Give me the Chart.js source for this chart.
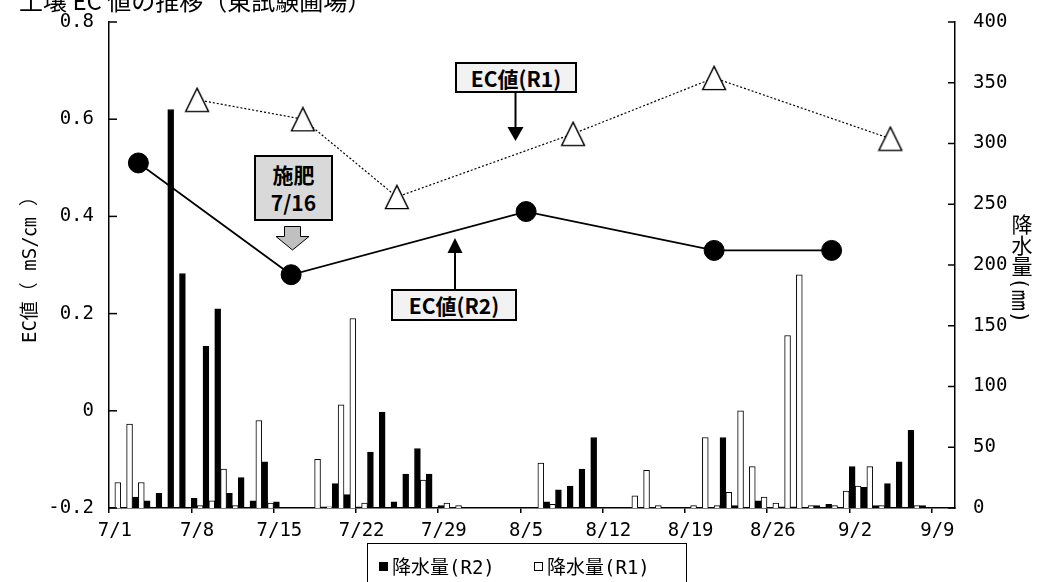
<!DOCTYPE html>
<html><head><meta charset="utf-8">
<script src="https://cdn.jsdelivr.net/npm/chart.js@4.4.1/dist/chart.umd.min.js"></script>
<style>
html,body{margin:0;padding:0;background:#fff;overflow:hidden;}
#wrap{position:relative;width:1047px;height:582px;overflow:hidden;}
#c{position:absolute;left:0;top:0;width:1047px;height:582px;}
#title{position:absolute;left:19px;top:-12px;font-size:24px;line-height:24px;font-family:"Noto Sans CJK JP",sans-serif;color:#000;white-space:nowrap;}
#rtitle{position:absolute;left:1009px;top:214px;writing-mode:vertical-rl;font-size:21px;line-height:22px;font-family:"DejaVu Sans Mono","Noto Sans CJK JP",sans-serif;color:#000;white-space:nowrap;}
#rtitle .sw{text-orientation:sideways;}
.box{position:absolute;box-sizing:border-box;border:2px solid #000;background:#f2f2f2;font-weight:bold;font-size:21px;font-family:"Noto Sans CJK JP",sans-serif;display:flex;align-items:center;justify-content:center;color:#000;white-space:nowrap;}
#b1{left:455px;top:62px;width:122px;height:31px;}
#b2{left:391px;top:289px;width:126px;height:32px;}
#b3{left:254px;top:155px;width:79px;height:66px;background:#d9d9d9;line-height:28px;text-align:center;}
#legend{position:absolute;left:367px;top:543px;width:320px;height:50px;box-sizing:border-box;border:1px solid #000;background:#fff;}
.lk{position:absolute;width:9px;height:9px;top:18px;box-sizing:border-box;border:1px solid #000;}
.lt{position:absolute;top:8px;font-size:19px;line-height:30px;font-family:"DejaVu Sans Mono","Noto Sans CJK JP",sans-serif;color:#000;white-space:nowrap;}
svg{position:absolute;left:0;top:0;}
</style></head><body>
<div id="wrap">
<canvas id="c" width="1047" height="582"></canvas>
<svg width="1047" height="582">
  <line x1="515.5" y1="93" x2="515.5" y2="128" stroke="#000" stroke-width="2"/>
  <polygon points="507.5,127 523.5,127 515.5,141" fill="#000"/>
  <line x1="455" y1="289" x2="455" y2="251" stroke="#000" stroke-width="2"/>
  <polygon points="447.5,253 462.5,253 455,238" fill="#000"/>
  <polygon points="284.5,226.5 300.5,226.5 300.5,236.5 309,236.5 292.5,250 276,236.5 284.5,236.5" fill="#c0c0c0" stroke="#000" stroke-width="1"/>
</svg>
<div id="title">土壌 EC 値の推移（東試験圃場）</div>
<div id="rtitle">降水量<span class="sw">(㎜)</span></div>
<div class="box" id="b1">EC値(R1)</div>
<div class="box" id="b2">EC値(R2)</div>
<div class="box" id="b3"><div>施肥<br>7/16</div></div>
<div id="legend">
  <span class="lk" style="left:11px;background:#000"></span><span class="lt" style="left:24px">降水量(R2)</span>
  <span class="lk" style="left:166px;background:#fff"></span><span class="lt" style="left:179px">降水量(R1)</span>
</div>
</div>
<script>
// Categories: daily dates 7/1 .. 9/10
const days = [
 '7/1','7/2','7/3','7/4','7/5','7/6','7/7','7/8','7/9','7/10',
 '7/11','7/12','7/13','7/14','7/15','7/16','7/17','7/18','7/19','7/20',
 '7/21','7/22','7/23','7/24','7/25','7/26','7/27','7/28','7/29','7/30',
 '7/31','8/1','8/2','8/3','8/4','8/5','8/6','8/7','8/8','8/9',
 '8/10','8/11','8/12','8/13','8/14','8/15','8/16','8/17','8/18','8/19',
 '8/20','8/21','8/22','8/23','8/24','8/25','8/26','8/27','8/28','8/29',
 '8/30','8/31','9/1','9/2','9/3','9/4','9/5','9/6','9/7','9/8',
 '9/9','9/10'
];
// Daily rainfall (mm)
const rainR2 = [
 0,0,9,6,12,328,193,8,133,164,
 12,25,6,38,5,0,0,0,1,20,
 11,1,46,79,5,28,49,28,2,0,
 0,0,0,0,0,0,0,5,15,18,
 32,58,0,0,0,0,0,0,0,0,
 0,0,58,2,0,6,0,1,1,0,
 2,3,0,34,17,2,20,38,64,2,
 0,0
];
const rainR1 = [
 21,69,21,0,0,0,0,2,6,32,
 2,0,72,4,0,0,0,40,1,85,
 156,4,0,0,0,0,23,0,4,2,
 0,0,0,0,0,0,37,3,0,0,
 0,0,0,0,10,31,2,0,0,2,
 58,2,13,80,34,9,4,142,192,2,
 0,2,14,18,34,2,0,0,2,0,
 0,0
];
// Soil EC (mS/cm)
const ecR2Dates = ['7/3','7/16','8/5','8/21','8/31'];
const ecR2 = [0.51,0.28,0.41,0.33,0.33];
const ecR1Dates = ['7/8','7/17','7/25','8/9','8/21','9/5'];
const ecR1 = [0.64,0.60,0.44,0.57,0.685,0.56];
// Axis ticks
const leftTicks = {min:-0.2,max:0.8,step:0.2};
const rightTicks = {min:0,max:400,step:50};
const labelEvery = 7;

// triangle marker
const tri = document.createElement('canvas');
tri.width = 26; tri.height = 26;
(function(){
  const g = tri.getContext('2d');
  g.beginPath(); g.moveTo(13,1.4); g.lineTo(24.4,24.6); g.lineTo(1.6,24.6); g.closePath();
  g.fillStyle='#fff'; g.fill(); g.lineWidth=1.4; g.strokeStyle='#000'; g.stroke();
})();

const innerTicks = {
  id:'innerTicks',
  afterDraw(chart){
    const {ctx, chartArea:a, scales:{y, y1}} = chart;
    ctx.save(); ctx.strokeStyle='#000'; ctx.lineWidth=1.5;
    y.ticks.forEach(t=>{const p=y.getPixelForValue(t.value); ctx.beginPath(); ctx.moveTo(a.left,p); ctx.lineTo(a.left+8,p); ctx.stroke();});
    y1.ticks.forEach(t=>{const p=y1.getPixelForValue(t.value); ctx.beginPath(); ctx.moveTo(a.right,p); ctx.lineTo(a.right-7,p); ctx.stroke();});
    ctx.restore();
  }
};

const FAM = '"DejaVu Sans Mono", "Noto Sans CJK JP", monospace';
Chart.defaults.color = '#000';
Chart.defaults.font.family = FAM;
Chart.defaults.font.size = 19;

new Chart(document.getElementById('c'), {
  type:'bar',
  data:{
    labels: days,
    datasets:[
      {type:'line', label:'EC値(R2)', data: ecR2Dates.map((d,i)=>({x:d,y:ecR2[i]})), yAxisID:'y', order:0,
       borderColor:'#000', borderWidth:1.75, pointRadius:10, pointBackgroundColor:'#000', pointBorderColor:'#000', pointBorderWidth:1, fill:false, tension:0},
      {type:'line', label:'EC値(R1)', data: ecR1Dates.map((d,i)=>({x:d,y:ecR1[i]})), yAxisID:'y', order:0,
       borderColor:'#000', borderWidth:1.2, borderDash:[2,2], pointStyle:tri, pointRadius:12, fill:false, tension:0},
      {label:'降水量(R2)', data: rainR2, yAxisID:'y1', order:1, backgroundColor:'#000', borderColor:'#000', borderWidth:1,
       barPercentage:1, categoryPercentage:1},
      {label:'降水量(R1)', data: rainR1, yAxisID:'y1', order:1, backgroundColor:'#fff', borderColor:'#000', borderWidth:1,
       barPercentage:1, categoryPercentage:1}
    ]
  },
  options:{
    responsive:false, animation:false, events:[],
    layout:{padding:{top:22,left:0,right:0,bottom:0}},
    plugins:{legend:{display:false}, tooltip:{enabled:false}, title:{display:false}},
    scales:{
      x:{
        offset:true,
        grid:{offset:true, drawOnChartArea:false, drawTicks:true, tickLength:5, lineWidth:1.5,
              color:(c)=> (c.index % labelEvery === 0 && c.index <= 70) ? '#000' : 'rgba(0,0,0,0)'},
        border:{color:'#000', width:1.5},
        ticks:{autoSkip:false, maxRotation:0, minRotation:0, padding:7,
               callback:function(v,i){ return i % labelEvery === 0 ? this.getLabelForValue(v) : ''; }},
        afterFit:(s)=>{ s.height = 74; s.paddingLeft = 0; s.paddingRight = 0; }
      },
      y:{
        position:'left', min:leftTicks.min, max:leftTicks.max,
        ticks:{stepSize:leftTicks.step, padding:15},
        grid:{display:false, drawTicks:false},
        border:{color:'#000', width:1.5},
        title:{display:true, text:'EC値（ mS/㎝ ）', font:{size:19}, padding:{top:20,bottom:0}},
        afterFit:(s)=>{ s.width = 109; s.paddingTop = 0; s.paddingBottom = 0; }
      },
      y1:{
        position:'right', min:rightTicks.min, max:rightTicks.max,
        ticks:{stepSize:rightTicks.step, padding:18},
        grid:{display:false, drawTicks:false},
        border:{color:'#000', width:1.5},
        afterFit:(s)=>{ s.width = 92; s.paddingTop = 0; s.paddingBottom = 0; }
      }
    }
  },
  plugins:[innerTicks]
});
</script>
</body></html>
